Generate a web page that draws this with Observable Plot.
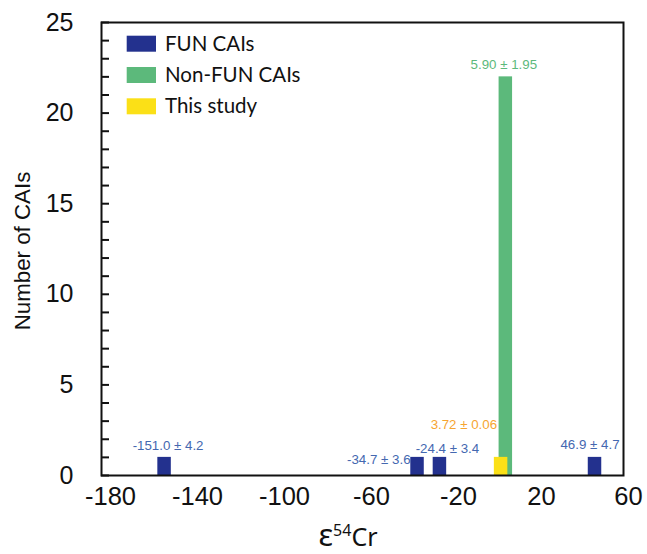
<!DOCTYPE html>
<html>
<head>
<meta charset="utf-8">
<script src="https://cdn.jsdelivr.net/npm/d3@7"></script>
<script src="https://cdn.jsdelivr.net/npm/@observablehq/plot@0.6"></script>
<style>
  body { margin: 0; background: #fff; }
  #chart svg { display: block; }
</style>
</head>
<body>
<div id="chart"></div>
<script>
// ε54Cr of individual CAIs: mean, 2σ uncertainty and number of inclusions
const groupNames = ["FUN CAIs", "Non-FUN CAIs", "This study"];

const funValues = [-151.0, -34.7, -24.4, 46.9];
const funErrors = [4.2, 3.6, 3.4, 4.7];
const funCounts = [1, 1, 1, 1];

const nonFunValues = [5.90];
const nonFunErrors = [1.95];
const nonFunCounts = [22];

const studyValues = [3.72];
const studyErrors = [0.06];
const studyCounts = [1];

const xTicks = [-180, -140, -100, -60, -20, 20, 60];
const yTicks = [0, 5, 10, 15, 20, 25];
const yMinorTicks = d3.range(0, 26);

// ---- styling ----
const barColors = { "FUN CAIs": "#23318e", "Non-FUN CAIs": "#5cb97b", "This study": "#fbe017" };
const labelColors = { "FUN CAIs": "#4468b0", "Non-FUN CAIs": "#5cb97b", "This study": "#f6a531" };
const decimals = { "FUN CAIs": 1, "Non-FUN CAIs": 2, "This study": 2 };
const halfBar = 3.1; // half bar width, in ε units
const sans = "Liberation Sans, Arial, Helvetica, sans-serif";
const legendFont = "Lato, 'Open Sans', sans-serif";
const plainNumber = d => `${d}`; // hyphen-minus, as in the axis labels

function rows(group, values, errors, counts) {
  return values.map((v, i) => ({
    group, value: v, error: errors[i], count: counts[i],
    label: `${v.toFixed(decimals[group])} ± ${errors[i].toFixed(decimals[group])}`
  }));
}
const fun = rows("FUN CAIs", funValues, funErrors, funCounts);
const nonFun = rows("Non-FUN CAIs", nonFunValues, nonFunErrors, nonFunCounts);
const study = rows("This study", studyValues, studyErrors, studyCounts);

// label nudges (pixels) so the annotations sit clear of neighbouring bars
const funNudges = [
  { textAnchor: "middle", dx: 3.5, dy: -7.5 },
  { textAnchor: "end", dx: -7, dy: 6.5 },
  { textAnchor: "middle", dx: 7.5, dy: -4 },
  { textAnchor: "middle", dx: -5, dy: -8 }
];

function barMark(data) {
  return Plot.rectY(data, {
    x1: d => d.value - halfBar,
    x2: d => d.value + halfBar,
    y1: 0,
    y2: "count",
    fill: d => barColors[d.group]
  });
}

function labelMark(data, opts) {
  return Plot.text(data, {
    x: "value", y: "count", text: "label",
    fill: d => labelColors[d.group],
    fontSize: 13.3, fontFamily: sans, lineAnchor: "bottom",
    ...opts
  });
}

function xLabels(ticks, dx) {
  return Plot.axisX(ticks, {
    tickSize: 0, tickPadding: 11, fontSize: 25.5, dx,
    fill: "#111", label: null, tickFormat: plainNumber
  });
}

// legend inside the frame, axis titles (the x title carries a superscript)
function decorations(index, scales, values, dims) {
  const g = d3.create("svg:g").attr("text-anchor", "start");
  const x0 = dims.marginLeft;
  const y0 = dims.marginTop;
  groupNames.forEach((name, i) => {
    g.append("rect")
      .attr("x", x0 + 25.7).attr("y", y0 + 13.7 + i * 31.3)
      .attr("width", 29.3).attr("height", 16)
      .attr("fill", barColors[name]);
    g.append("text")
      .attr("x", x0 + 64).attr("y", y0 + 28.7 + i * 31.3)
      .attr("text-anchor", "start")
      .attr("font-family", legendFont).attr("font-size", 20.5)
      .attr("fill", "#111")
      .text(name);
  });
  const cx = (dims.marginLeft + dims.width - dims.marginRight) / 2 - 14;
  const t = g.append("text")
    .attr("x", cx).attr("y", dims.height - 8)
    .attr("text-anchor", "middle")
    .attr("font-family", "'Noto Sans', 'Open Sans', sans-serif")
    .attr("font-size", 25).attr("fill", "#111");
  t.append("tspan").attr("font-size", 31).text("ε");
  t.append("tspan").attr("font-size", 16).attr("dy", -10).text("54");
  t.append("tspan").attr("dy", 10).text("Cr");

  const cy = (dims.marginTop + dims.height - dims.marginBottom) / 2 + 2.5;
  g.append("text")
    .attr("transform", `translate(22.5,${cy}) rotate(-90)`)
    .attr("text-anchor", "middle").attr("dy", "0.35em")
    .attr("font-family", sans).attr("font-size", 22.3)
    .attr("fill", "#111")
    .text("Number of CAIs");
  return g.node();
}

const chart = Plot.plot({
  width: 647,
  height: 554,
  marginLeft: 101,
  marginRight: 24,
  marginTop: 22,
  marginBottom: 79,
  style: { fontFamily: sans, background: "#fff", overflow: "visible" },
  x: { domain: [-180, 60] },
  y: { domain: [0, 25] },
  marks: [
    barMark(nonFun),
    barMark(fun),
    barMark(study),
    ...fun.map((d, i) => labelMark([d], funNudges[i])),
    labelMark(nonFun, { textAnchor: "middle", dx: -2, dy: -7.5 }),
    labelMark(study, { textAnchor: "end", dx: -4, dy: -28 }),
    Plot.frame({ stroke: "#111", strokeWidth: 2 }),
    Plot.axisY(yMinorTicks, { tickSize: -8, tickFormat: () => "", strokeWidth: 2, stroke: "#111", label: null }),
    Plot.axisY(yTicks, { tickSize: 0, tickPadding: 28, fontSize: 25, fill: "#111", label: null }),
    xLabels(xTicks.filter(v => v < 0), 9),
    xLabels(xTicks.filter(v => v >= 0), 5),
    decorations
  ]
});
document.getElementById("chart").append(chart);
</script>
</body>
</html>
